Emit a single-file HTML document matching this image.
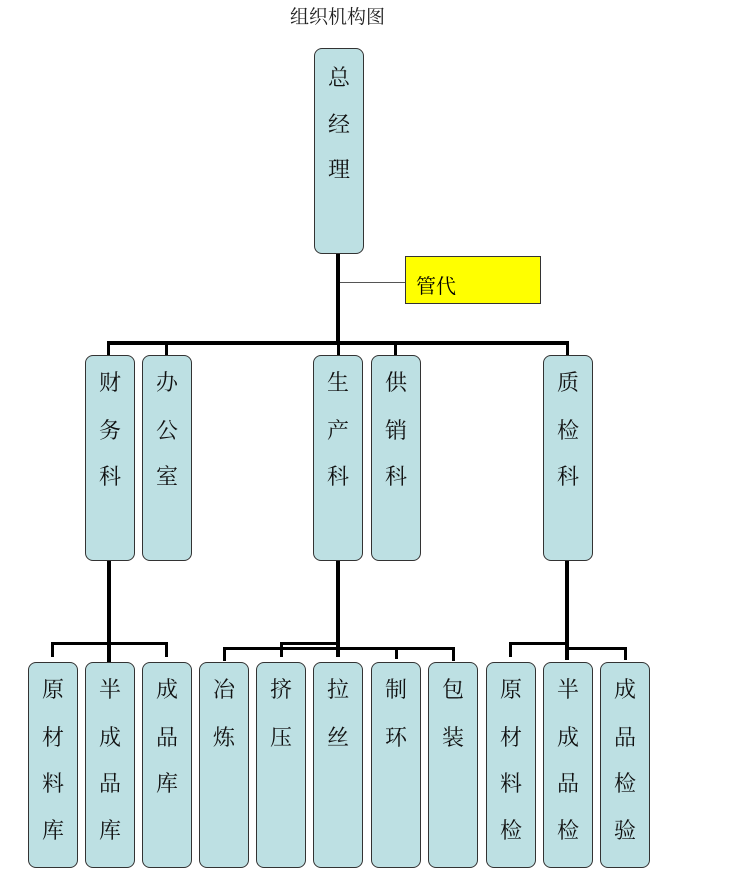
<!DOCTYPE html>
<html><head><meta charset="utf-8"><style>
body{margin:0;background:#fff;}
#c{position:relative;width:756px;height:894px;overflow:hidden;background:#fff;}
.t{position:absolute;left:290px;top:2px;font:19px "Liberation Serif","Noto Serif CJK SC",serif;color:#222;}
.b{position:absolute;width:48px;background:#bde0e3;border:1px solid #333;border-radius:8px;box-sizing:content-box;}
.b span{position:absolute;left:0;width:48px;text-align:center;font:22px "Liberation Serif","Noto Serif CJK SC",serif;color:#111;line-height:26px;}
.l{position:absolute;background:#000;}
.y{position:absolute;left:405px;top:256px;width:134px;height:46px;background:#ffff00;border:1px solid #333;font:20px "Liberation Serif","Noto Serif CJK SC",serif;}
</style></head><body><div id="c">
<div class="t">组织机构图</div>
<!-- lines -->
<div class="l" style="left:336px;top:253px;width:4px;height:92px"></div>
<div class="l" style="left:340px;top:282px;width:65px;height:1px;background:#555"></div>
<div class="l" style="left:107px;top:341px;width:462px;height:4px"></div>
<div class="l" style="left:107px;top:341px;width:3px;height:14px"></div>
<div class="l" style="left:165px;top:341px;width:3px;height:14px"></div>
<div class="l" style="left:337px;top:341px;width:3px;height:14px"></div>
<div class="l" style="left:394px;top:341px;width:3px;height:14px"></div>
<div class="l" style="left:566px;top:341px;width:3px;height:14px"></div>
<!-- finance -->
<div class="l" style="left:107px;top:560px;width:4px;height:102px"></div>
<div class="l" style="left:51px;top:642px;width:117px;height:3px"></div>
<div class="l" style="left:51px;top:642px;width:3px;height:15px"></div>
<div class="l" style="left:165px;top:642px;width:3px;height:15px"></div>
<!-- production -->
<div class="l" style="left:336px;top:560px;width:4px;height:97px"></div>
<div class="l" style="left:280px;top:642px;width:58px;height:3px"></div>
<div class="l" style="left:223px;top:647px;width:232px;height:3px"></div>
<div class="l" style="left:223px;top:647px;width:3px;height:14px"></div>
<div class="l" style="left:280px;top:642px;width:3px;height:15px"></div>
<div class="l" style="left:395px;top:647px;width:3px;height:12px"></div>
<div class="l" style="left:452px;top:647px;width:3px;height:14px"></div>
<!-- quality -->
<div class="l" style="left:565px;top:560px;width:4px;height:100px"></div>
<div class="l" style="left:509px;top:642px;width:58px;height:3px"></div>
<div class="l" style="left:567px;top:647px;width:60px;height:3px"></div>
<div class="l" style="left:509px;top:642px;width:3px;height:15px"></div>
<div class="l" style="left:624px;top:647px;width:3px;height:13px"></div>
<div class="y"><span style="position:absolute;left:10px;top:13px">管代</span></div>
<!-- boxes -->
<div class="b" style="left:314px;top:48px;height:204px"><span style="top:16px">总</span><span style="top:63px">经</span><span style="top:108px">理</span></div>

<div class="b" style="left:85px;top:355px;height:204px"><span style="top:14px">财</span><span style="top:62px">务</span><span style="top:108px">科</span></div>
<div class="b" style="left:142px;top:355px;height:204px"><span style="top:14px">办</span><span style="top:62px">公</span><span style="top:108px">室</span></div>
<div class="b" style="left:313px;top:355px;height:204px"><span style="top:14px">生</span><span style="top:62px">产</span><span style="top:108px">科</span></div>
<div class="b" style="left:371px;top:355px;height:204px"><span style="top:14px">供</span><span style="top:62px">销</span><span style="top:108px">科</span></div>
<div class="b" style="left:543px;top:355px;height:204px"><span style="top:14px">质</span><span style="top:62px">检</span><span style="top:108px">科</span></div>

<div class="b" style="left:28px;top:662px;height:204px"><span style="top:14px">原</span><span style="top:62px">材</span><span style="top:108px">料</span><span style="top:155px">库</span></div>
<div class="b" style="left:85px;top:662px;height:204px"><span style="top:14px">半</span><span style="top:62px">成</span><span style="top:108px">品</span><span style="top:155px">库</span></div>
<div class="b" style="left:142px;top:662px;height:204px"><span style="top:14px">成</span><span style="top:62px">品</span><span style="top:108px">库</span></div>
<div class="b" style="left:199px;top:662px;height:204px"><span style="top:14px">冶</span><span style="top:62px">炼</span></div>
<div class="b" style="left:256px;top:662px;height:204px"><span style="top:14px">挤</span><span style="top:62px">压</span></div>
<div class="b" style="left:313px;top:662px;height:204px"><span style="top:14px">拉</span><span style="top:62px">丝</span></div>
<div class="b" style="left:371px;top:662px;height:204px"><span style="top:14px">制</span><span style="top:62px">环</span></div>
<div class="b" style="left:428px;top:662px;height:204px"><span style="top:14px">包</span><span style="top:62px">装</span></div>
<div class="b" style="left:486px;top:662px;height:204px"><span style="top:14px">原</span><span style="top:62px">材</span><span style="top:108px">料</span><span style="top:155px">检</span></div>
<div class="b" style="left:543px;top:662px;height:204px"><span style="top:14px">半</span><span style="top:62px">成</span><span style="top:108px">品</span><span style="top:155px">检</span></div>
<div class="b" style="left:600px;top:662px;height:204px"><span style="top:14px">成</span><span style="top:62px">品</span><span style="top:108px">检</span><span style="top:155px">验</span></div>
</div></body></html>
